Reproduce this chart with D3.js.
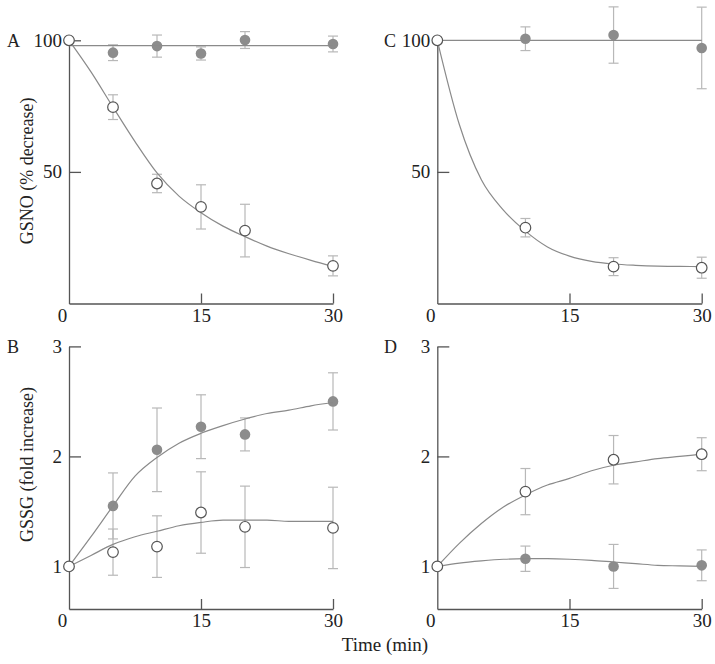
<!DOCTYPE html>
<html lang="en">
<head>
<meta charset="UTF-8" />
<title>GSNO / GSSG time course</title>
<script src="https://d3js.org/d3.v7.min.js"></script>
<style>
  body { margin: 0; background: #fff; }
  svg { display: block; font-family: "Liberation Serif", "Times New Roman", serif; }
  .axis path, .axis line { stroke: #555; stroke-width: 1.3px; }
  .axis text { font-family: "Liberation Serif", serif; font-size: 19px; fill: #222; }
  .fit { fill: none; stroke: #8a8a8a; stroke-width: 1.2px; }
  .err { stroke: #b8b8b8; stroke-width: 1.2px; }
  .dot-filled { fill: #8c8c8c; }
  .dot-open { fill: #fff; stroke: #555; stroke-width: 1.2px; }
  .title { font-size: 18px; fill: #222; }
  .letter { font-size: 18px; fill: #222; }
</style>
</head>
<body>
<svg width="715" height="664"></svg>
<script>
// ---- data ----
// A: GSNO, 6 time points
const timeA = [0, 5, 10, 15, 20, 30];
const gsnoAOpen = [100, 74.6, 45.6, 36.7, 27.7, 14.3];
const gsnoAOpenErr = [0, 4.7, 3.5, 8.4, 10, 3.8];
const gsnoAFilled = [100, 95.3, 97.8, 95, 100.1, 98.6];
const gsnoAFilledErr = [0, 3, 4.2, 2.5, 3.2, 3];

// B: GSSG, 6 time points
const timeB = [0, 5, 10, 15, 20, 30];
const gssgBOpen = [1.0, 1.13, 1.18, 1.49, 1.36, 1.35];
const gssgBOpenErr = [0, 0.21, 0.28, 0.37, 0.37, 0.37];
const gssgBFilled = [1.0, 1.55, 2.06, 2.27, 2.2, 2.5];
const gssgBFilledErr = [0, 0.3, 0.38, 0.29, 0.15, 0.26];

// C: GSNO, 4 time points
const timeC = [0, 10, 20, 30];
const gsnoCOpen = [100, 28.8, 14, 13.6];
const gsnoCOpenErr = [0, 3.5, 3.4, 4];
const gsnoCFilled = [100, 100.6, 102, 97.1];
const gsnoCFilledErr = [0, 4.5, 10.7, 15.5];

// D: GSSG, 4 time points
const timeD = [0, 10, 20, 30];
const gssgDOpen = [1.0, 1.68, 1.97, 2.02];
const gssgDOpenErr = [0, 0.21, 0.22, 0.15];
const gssgDFilled = [1.0, 1.07, 1.0, 1.01];
const gssgDFilledErr = [0, 0.115, 0.2, 0.14];

// fitted curves, sampled every 2.5 min
const fitTime = [0, 2.5, 5, 7.5, 10, 12.5, 15, 17.5, 20, 22.5, 25, 27.5, 30];
const fitAOpen = [100, 88, 74.6, 61.5, 49.6, 40.8, 34.5, 29.4, 25.4, 21.8, 18.9, 16.4, 14.1];
const fitAFilled = [98, 98, 98, 98, 98, 98, 98, 98, 98, 98, 98, 98, 98];
const fitCOpen = [100, 68, 47, 35.5, 27.5, 21.5, 18, 16, 15, 14.5, 14.2, 14.1, 14];
const fitCFilled = [100, 100, 100, 100, 100, 100, 100, 100, 100, 100, 100, 100, 100];
const fitBFilled = [1.0, 1.27, 1.55, 1.82, 1.99, 2.12, 2.21, 2.28, 2.34, 2.39, 2.42, 2.46, 2.49];
const fitBOpen = [1.0, 1.1, 1.2, 1.27, 1.32, 1.37, 1.4, 1.42, 1.42, 1.42, 1.41, 1.41, 1.41];
const fitDOpen = [1.0, 1.21, 1.39, 1.54, 1.65, 1.74, 1.8, 1.87, 1.92, 1.95, 1.98, 2.0, 2.02];
const fitDFilled = [1.0, 1.03, 1.05, 1.065, 1.07, 1.07, 1.065, 1.055, 1.04, 1.025, 1.01, 1.005, 1.0];

const xTicks = [0, 15, 30];

const svg = d3.select("svg");

const xLeft = [69, 333], xRight = [437.3, 701.7];
const gsnoY = d3.scaleLinear().domain([0, 100]).range([303.5, 40.3]);
const gssgY = d3.scaleLinear().domain([0.613, 3]).range([609, 346.4]);

const panels = [
  { letter: "A", xr: xLeft, y: gsnoY, base: 303.5, yTicks: [50, 100], noMark: [],
    time: timeA, open: gsnoAOpen, openErr: gsnoAOpenErr, filled: gsnoAFilled, filledErr: gsnoAFilledErr,
    fitOpen: fitAOpen, fitFilled: fitAFilled },
  { letter: "B", xr: xLeft, y: gssgY, base: 609, yTicks: [1, 2, 3], noMark: [1],
    time: timeB, open: gssgBOpen, openErr: gssgBOpenErr, filled: gssgBFilled, filledErr: gssgBFilledErr,
    fitOpen: fitBOpen, fitFilled: fitBFilled },
  { letter: "C", xr: xRight, y: gsnoY, base: 303.5, yTicks: [50, 100], noMark: [100],
    time: timeC, open: gsnoCOpen, openErr: gsnoCOpenErr, filled: gsnoCFilled, filledErr: gsnoCFilledErr,
    fitOpen: fitCOpen, fitFilled: fitCFilled },
  { letter: "D", xr: xRight, y: gssgY, base: 609, yTicks: [1, 2, 3], noMark: [1],
    time: timeD, open: gssgDOpen, openErr: gssgDOpenErr, filled: gssgDFilled, filledErr: gssgDFilledErr,
    fitOpen: fitDOpen, fitFilled: fitDFilled }
];

panels.forEach(p => {
  const x = d3.scaleLinear().domain([0, 30]).range(p.xr);
  const y = p.y;
  const g = svg.append("g");

  // axes
  const ya = g.append("g").attr("class", "axis")
    .attr("transform", `translate(${p.xr[0]},0)`)
    .call(d3.axisLeft(y).tickValues(p.yTicks).tickSizeInner(-12).tickSizeOuter(0)
      .tickPadding(7).tickFormat(d3.format("d")));
  ya.selectAll(".tick").filter(d => p.noMark.includes(d)).select("line").remove();

  const xa = g.append("g").attr("class", "axis")
    .attr("transform", `translate(0,${p.base})`)
    .call(d3.axisBottom(x).tickValues(xTicks).tickSizeInner(-10).tickSizeOuter(0).tickPadding(5));
  xa.selectAll(".tick").filter(d => d === 0).each(function() {
    d3.select(this).select("line").remove();
    d3.select(this).select("text").attr("x", -7);
  });

  // panel letter
  const lx = p.xr[0] === xLeft[0] ? 7 : 384;
  g.append("text").attr("class", "letter")
    .attr("x", lx).attr("y", y(y.domain()[1]) + 7).text(p.letter);

  const rows = (vals, errs) => p.time.map((t, i) => ({ t, v: vals[i], e: errs[i] }));
  const openRows = rows(p.open, p.openErr);
  const filledRows = rows(p.filled, p.filledErr);

  // error bars
  [...filledRows, ...openRows].filter(d => d.e > 0).forEach(d => {
    const cx = x(d.t), y0 = y(d.v - d.e), y1 = y(d.v + d.e);
    g.append("line").attr("class", "err").attr("x1", cx).attr("x2", cx).attr("y1", y0).attr("y2", y1);
    [y0, y1].forEach(yy => g.append("line").attr("class", "err")
      .attr("x1", cx - 5).attr("x2", cx + 5).attr("y1", yy).attr("y2", yy));
  });

  // filled markers
  g.selectAll(null).data(filledRows).enter().append("circle")
    .attr("class", "dot-filled").attr("cx", d => x(d.t)).attr("cy", d => y(d.v)).attr("r", 5.3);

  // fitted curves
  const line = d3.line().x(d => x(d[0])).y(d => y(d[1])).curve(d3.curveMonotoneX);
  [p.fitFilled, p.fitOpen].forEach(f => {
    g.append("path").attr("class", "fit").attr("d", line(fitTime.map((t, i) => [t, f[i]])));
  });

  // open markers
  g.selectAll(null).data(openRows).enter().append("circle")
    .attr("class", "dot-open").attr("cx", d => x(d.t)).attr("cy", d => y(d.v)).attr("r", 5.3);
});

// axis titles
svg.append("text").attr("class", "title")
  .attr("transform", `translate(33,${gsnoY(50) - 1}) rotate(-90)`)
  .attr("text-anchor", "middle").text("GSNO (% decrease)");
svg.append("text").attr("class", "title")
  .attr("transform", `translate(33,${gssgY(2) + 8}) rotate(-90)`)
  .attr("text-anchor", "middle").text("GSSG (fold increase)");
svg.append("text").attr("class", "title").style("font-size", "19px")
  .attr("x", 385).attr("y", 651).attr("text-anchor", "middle").text("Time (min)");
</script>
</body>
</html>
